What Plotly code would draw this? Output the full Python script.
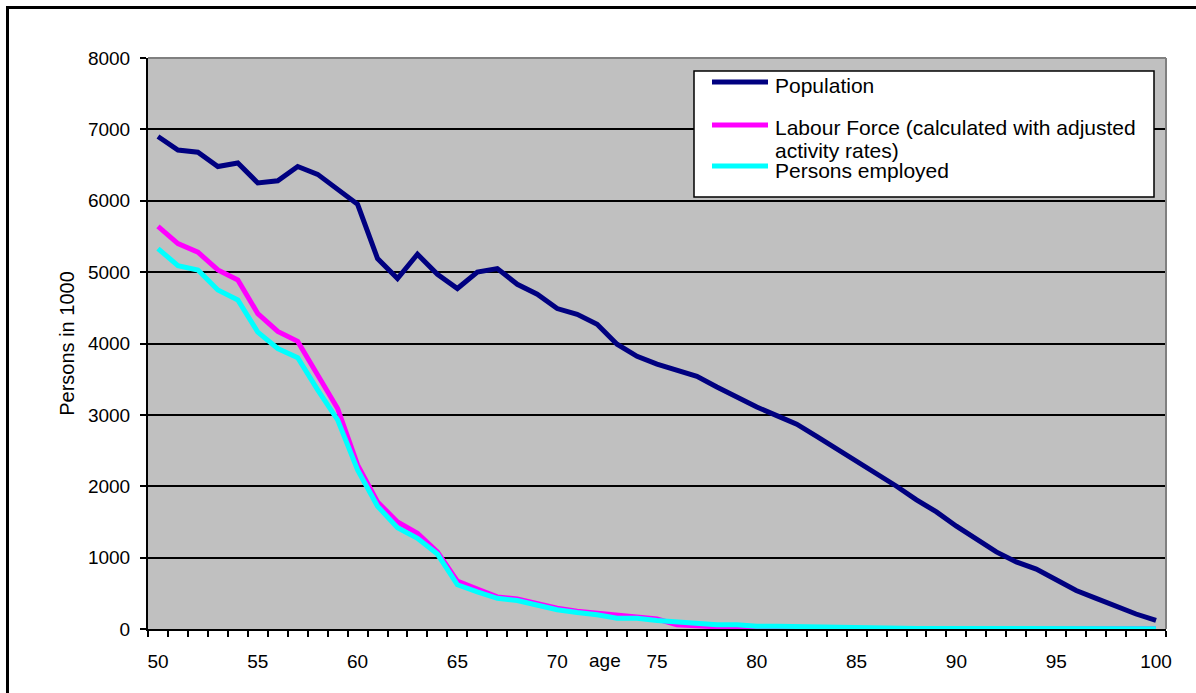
import plotly.graph_objects as go

ages = list(range(50, 101))
population = [6900, 6710, 6680, 6480, 6530, 6250, 6280, 6480, 6370, 6170,
              5950, 5190, 4910, 5250, 4970, 4770, 5000, 5050, 4830, 4690,
              4490, 4410, 4270, 3990, 3820, 3710, 3630, 3540, 3390, 3250,
              3110, 2990, 2870, 2700, 2530, 2340, 2170, 2000, 1810, 1640,
              1440, 1270, 1080, 940, 840, 690, 540, 430, 320, 210,
              120]
labour_force = [5640, 5400, 5280, 5030, 4890, 4420, 4170, 4030, 3560, 3090,
                2300, 1780, 1500, 1340, 1080, 670, 560, 450, 420, 350,
                290, 250, 225, 200, 170, 140, 60, 40, 30, 25,
                20, 15, 15, 15, 15, 5, 5, 5, 5, 5,
                5, 5, 5, 5, 5, 5, 5, 5, 5, 5,
                5]
employed = [5330, 5090, 5030, 4750, 4610, 4160, 3930, 3800, 3350, 2930,
            2230, 1720, 1420, 1270, 1050, 620, 520, 430, 400, 330,
            270, 230, 200, 150, 150, 120, 100, 90, 60, 60,
            40, 40, 35, 35, 30, 10, 8, 8, 8, 8,
            8, 8, 8, 8, 8, 8, 8, 8, 8, 8,
            5]
series_names = ["Population", "Labour Force (calculated with adjusted activity rates)", "Persons employed"]
x_labels = list(range(50, 101, 5))
y_ticks = list(range(0, 8001, 1000))

FONT = "Arial, Liberation Sans, sans-serif"
NAVY, MAGENTA, CYAN = "#000080", "#FF00FF", "#00FFFF"

# layout geometry (pixels)
W, H = 1196, 693
L, R, T, B = 148, 1166, 58, 629
def px(xp):
    return (xp - L) / (R - L)
def py(yp):
    return (B - yp) / (B - T)

fig = go.Figure()
for name, vals, col in [(series_names[0], population, NAVY),
                        (series_names[1], labour_force, MAGENTA),
                        (series_names[2], employed, CYAN)]:
    fig.add_trace(go.Scatter(x=ages, y=vals, name=name, mode="lines",
                             line=dict(color=col, width=5),
                             showlegend=False))

shapes = [
    # outer border
    dict(type="rect", xref="paper", yref="paper", x0=px(7.5), x1=px(1210), y0=py(705), y1=py(7.5),
         line=dict(color="black", width=3), layer="below"),
    # top and right plot edges (grey)
    dict(type="line", xref="paper", yref="paper", x0=0, x1=1, y0=1, y1=1,
         line=dict(color="#808080", width=2), layer="above"),
    dict(type="line", xref="paper", yref="paper", x0=1, x1=1, y0=0, y1=1,
         line=dict(color="#808080", width=2), layer="above"),
    # legend box
    dict(type="rect", xref="paper", yref="paper", x0=px(694), x1=px(1154), y0=py(197), y1=py(71),
         fillcolor="white", line=dict(color="black", width=1.5), layer="above"),
]
leg_y = [82, 125, 166]
for yy, col in zip(leg_y, [NAVY, MAGENTA, CYAN]):
    shapes.append(dict(type="line", xref="paper", yref="paper", x0=px(712), x1=px(768),
                       y0=py(yy), y1=py(yy), line=dict(color=col, width=5), layer="above"))

LEGF = dict(family=FONT, size=21, color="black")
annotations = [
    dict(text="Population", x=px(773), y=py(85), xref="paper", yref="paper",
         xanchor="left", yanchor="middle", showarrow=False, font=LEGF),
    dict(text="Labour Force (calculated with adjusted", x=px(773), y=py(128), xref="paper", yref="paper",
         xanchor="left", yanchor="middle", showarrow=False, font=LEGF),
    dict(text="activity rates)", x=px(773), y=py(150), xref="paper", yref="paper",
         xanchor="left", yanchor="middle", showarrow=False, font=LEGF),
    dict(text="Persons employed", x=px(773), y=py(170), xref="paper", yref="paper",
         xanchor="left", yanchor="middle", showarrow=False, font=LEGF),
    dict(text="age", x=72.4, y=py(660), xref="x", yref="paper",
         xanchor="center", yanchor="middle", showarrow=False,
         font=dict(family=FONT, size=19, color="black")),
]

fig.update_layout(
    width=W, height=H,
    margin=dict(l=L, r=W - R, t=T, b=H - B, pad=0),
    paper_bgcolor="white", plot_bgcolor="#C0C0C0",
    font=dict(family=FONT, size=19, color="black"),
    showlegend=False,
    shapes=shapes, annotations=annotations,
    xaxis=dict(range=[49.5, 100.5], tickvals=x_labels, ticktext=[str(v) for v in x_labels],
               ticks="", showgrid=False, zeroline=False,
               showline=True, linecolor="black", linewidth=2,
               tickfont=dict(family=FONT, size=19, color="black"),
               ticklabelstandoff=14,
               minor=dict(tickvals=[a - 0.5 for a in ages] + [100.5], ticks="outside",
                          ticklen=6, tickcolor="black", tickwidth=2, showgrid=False)),
    yaxis=dict(range=[0, 8000], tickvals=y_ticks, ticks="outside", ticklen=6,
               tickcolor="black", tickwidth=2,
               showgrid=True, gridcolor="black", gridwidth=1.5, zeroline=False,
               showline=True, linecolor="black", linewidth=2,
               tickfont=dict(family=FONT, size=19, color="black"),
               ticklabelstandoff=6,
               title=dict(text="Persons in 1000", font=dict(family=FONT, size=20, color="black"),
                          standoff=8)),
)

fig.write_html("out.html", config={"displayModeBar": False},
               post_script="document.body.style.margin='0';document.body.style.overflow='hidden';")
